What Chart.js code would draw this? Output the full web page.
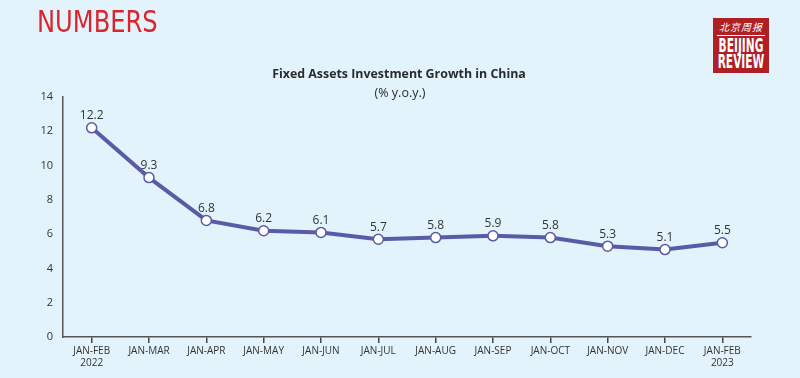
<!DOCTYPE html>
<html><head><meta charset="utf-8">
<script src="https://cdn.jsdelivr.net/npm/chart.js@4/dist/chart.umd.min.js"></script>
<style>
html,body{margin:0;padding:0;background:#e2f3fb;width:800px;height:378px;overflow:hidden}
#wrap{position:relative;width:800px;height:378px}
canvas{position:absolute;left:0;top:0}
#hdr{position:absolute;left:37px;top:3px;font-family:"DejaVu Sans",sans-serif;font-size:31px;color:#d9262e;transform:scaleX(0.78);transform-origin:0 0;white-space:nowrap}
#logo{position:absolute;left:713px;top:18px;width:56px;height:55px;background:#b01f24;color:#fff;text-align:center;overflow:hidden}
#logo .cn{font-family:"Noto Sans CJK SC";font-size:10px;line-height:12px;margin-top:3px;font-style:italic;letter-spacing:1px}
#logo .ln{height:1px;background:#fff;margin:2px 4px 1px 4px}
#logo .en{font-family:"DejaVu Sans",sans-serif;font-weight:bold;font-size:19px;line-height:16px;white-space:nowrap;transform:scaleX(0.56);transform-origin:50% 0;margin-left:-30px;margin-right:-30px}
</style></head><body>
<div id="wrap">
<canvas id="c" width="800" height="378"></canvas>
<div id="hdr">NUMBERS</div>
<div id="logo"><div class="cn">北京周报</div><div class="ln"></div><div class="en">BEIJING</div><div class="en">REVIEW</div></div>
</div>
<script>
const categories = [["JAN-FEB","2022"],"JAN-MAR","JAN-APR","JAN-MAY","JAN-JUN","JAN-JUL","JAN-AUG","JAN-SEP","JAN-OCT","JAN-NOV","JAN-DEC",["JAN-FEB","2023"]];
const growth = [12.2,9.3,6.8,6.2,6.1,5.7,5.8,5.9,5.8,5.3,5.1,5.5];
const yTicks = [0,2,4,6,8,10,12,14];
const chartTitle = "Fixed Assets Investment Growth in China";
const chartSubtitle = "(% y.o.y.)";

const FONT = "'Open Sans', 'Lato', sans-serif";
const LINE = "#5a5ba6";

const labelPlugin = {
  id:'labels',
  afterDatasetsDraw(chart){
    const ctx = chart.ctx;
    const meta = chart.getDatasetMeta(0);
    ctx.save();
    ctx.font = "12px " + FONT;
    ctx.fillStyle = "#333";
    ctx.textAlign = "center";
    ctx.textBaseline = "bottom";
    meta.data.forEach((p,i)=>{
      ctx.fillText(growth[i].toFixed(1), p.x, p.y - 6);
    });
    ctx.restore();
  }
};
const titlePlugin = {
  id:'titles',
  afterDraw(chart){
    const ctx = chart.ctx;
    ctx.save();
    ctx.textAlign = "center";
    ctx.textBaseline = "middle";
    ctx.fillStyle = "#2b2b2b";
    ctx.font = "bold 12.4px " + FONT;
    ctx.fillText(chartTitle, 399, 74);
    ctx.font = "12.5px " + FONT;
    ctx.fillText(chartSubtitle, 400, 93);
    ctx.restore();
  }
};

new Chart(document.getElementById('c'), {
  type:'line',
  data:{labels:categories, datasets:[{
    data:growth, borderColor:LINE, borderWidth:4, tension:0,
    pointRadius:5, pointHoverRadius:5, pointBackgroundColor:"#fff",
    pointBorderColor:LINE, pointBorderWidth:1.5
  }]},
  options:{
    responsive:false, animation:false,
    layout:{padding:{left:0,right:49,top:97,bottom:0}},
    plugins:{legend:{display:false},tooltip:{enabled:false}},
    scales:{
      x:{
        offset:true,
        grid:{offset:false,drawOnChartArea:false,drawTicks:true,tickLength:6,color:"#444",lineWidth:1.5},
        border:{color:"#555",width:1.5},
        ticks:{color:"#333",font:{family:FONT,size:10},padding:2,maxRotation:0,autoSkip:false},
        afterFit(s){s.height=41;}
      },
      y:{
        min:0,max:14,
        afterBuildTicks(s){s.ticks = yTicks.map(v=>({value:v}));},
        grid:{drawOnChartArea:false,drawTicks:false},
        border:{color:"#555",width:1.5},
        ticks:{color:"#333",font:{family:FONT,size:11},padding:10},
        afterFit(s){s.width=63;}
      }
    }
  },
  plugins:[labelPlugin,titlePlugin]
});
</script>
</body></html>
